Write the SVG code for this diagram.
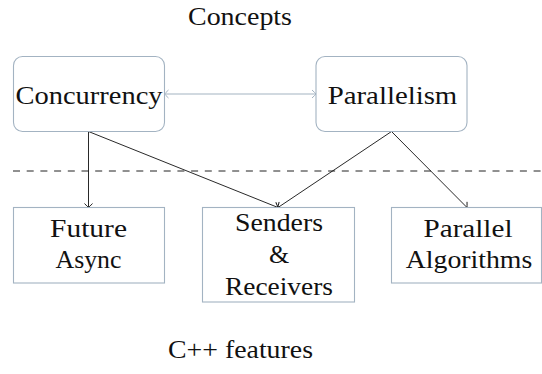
<svg xmlns="http://www.w3.org/2000/svg" width="542" height="374" viewBox="0 0 542 374">
<defs>
<style>
text{font-family:'Liberation Serif','DejaVu Serif',serif;font-size:26px;fill:#111;text-anchor:middle}
.concept{fill:#fff;stroke:#a3b3c2;stroke-width:1.1}
.feature{fill:#fff;stroke:#a3b3c2;stroke-width:1.1}
.link{fill:none;stroke:#111;stroke-width:0.9}
.bi{fill:none;stroke:#a3b3c2;stroke-width:1.1}
</style>
<marker id="toB" viewBox="-5 -5 6 10" markerWidth="6" markerHeight="10" refX="0" refY="0" orient="auto-start-reverse" markerUnits="userSpaceOnUse">
<path d="M-4,-4 Q-0.8,-1 0,0 Q-0.8,1 -4,4" fill="none" stroke="#111" stroke-width="0.9"/>
</marker>
<marker id="toG" viewBox="-5 -5 6 10" markerWidth="6" markerHeight="10" refX="0" refY="0" orient="auto-start-reverse" markerUnits="userSpaceOnUse">
<path d="M-4,-4 Q-0.8,-1 0,0 Q-0.8,1 -4,4" fill="none" stroke="#a3b3c2" stroke-width="1"/>
</marker>
</defs>
<rect width="542" height="374" fill="#fff"/>
<g id="label-concepts"><text x="240" y="25" textLength="104" lengthAdjust="spacingAndGlyphs">Concepts</text></g>
<g id="label-features"><text x="240.5" y="358" textLength="145" lengthAdjust="spacingAndGlyphs">C++ features</text></g>
<g id="connectors">
<line x1="13" y1="171" x2="542" y2="171" stroke="#222" stroke-width="1" stroke-dasharray="7 6.7"/>
<line class="bi" x1="164.5" y1="94" x2="316" y2="94" marker-start="url(#toG)" marker-end="url(#toG)"/>
<line class="link" x1="88.5" y1="131.5" x2="88.5" y2="207.5" marker-end="url(#toB)"/>
<line class="link" x1="88.5" y1="131.5" x2="278" y2="207.5" marker-end="url(#toB)"/>
<line class="link" x1="391.5" y1="131.5" x2="278" y2="207.5" marker-end="url(#toB)"/>
<line class="link" x1="391.5" y1="131.5" x2="467" y2="207.5" marker-end="url(#toB)"/>
</g>
<g id="concurrency">
<rect class="concept" x="13.5" y="56.5" width="151" height="75" rx="9"/>
<text x="89" y="104" textLength="147" lengthAdjust="spacingAndGlyphs">Concurrency</text>
</g>
<g id="parallelism">
<rect class="concept" x="316" y="56.5" width="151" height="75" rx="9"/>
<text x="392.5" y="104" textLength="129.5" lengthAdjust="spacingAndGlyphs">Parallelism</text>
</g>
<g id="future-async">
<rect class="feature" x="13.5" y="207.5" width="151" height="75.5"/>
<text x="88.5" y="236.5" textLength="77" lengthAdjust="spacingAndGlyphs">Future</text>
<text x="88.5" y="267.5" textLength="66" lengthAdjust="spacingAndGlyphs">Async</text>
</g>
<g id="senders-receivers">
<rect class="feature" x="202.5" y="207.5" width="152" height="94.5"/>
<text x="279" y="231" textLength="88" lengthAdjust="spacingAndGlyphs">Senders</text>
<text x="279" y="263">&amp;</text>
<text x="279" y="295" textLength="108" lengthAdjust="spacingAndGlyphs">Receivers</text>
</g>
<g id="parallel-algorithms">
<rect class="feature" x="391.5" y="207.5" width="150" height="75.5"/>
<text x="468" y="236.5" textLength="89" lengthAdjust="spacingAndGlyphs">Parallel</text>
<text x="469" y="267.5" textLength="126.5" lengthAdjust="spacingAndGlyphs">Algorithms</text>
</g>
</svg>
